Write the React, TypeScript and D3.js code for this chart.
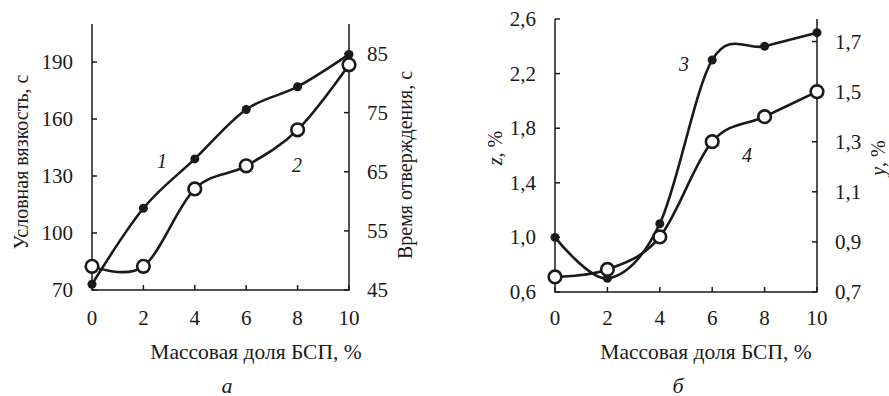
import { useEffect, useRef } from 'react';
import * as d3 from 'd3';

// x values: mass share of BSP, %
const massShare = [0, 2, 4, 6, 8, 10];
// panel а
const viscosity = [73, 113, 139, 165, 177, 194]; // curve 1, left axis
const cureTime = [49, 49, 62.1, 66, 72.1, 83.1]; // curve 2, right axis
// panel б
const zValues = [1.0, 0.7, 1.1, 2.3, 2.4, 2.5]; // curve 3, left axis
const yValues = [0.76, 0.79, 0.92, 1.3, 1.4, 1.5]; // curve 4, right axis

const xTicks = [0, 2, 4, 6, 8, 10];
const viscTicks = [70, 100, 130, 160, 190];
const timeTicks = [45, 55, 65, 75, 85];
const zTicks = [0.6, 1.0, 1.4, 1.8, 2.2, 2.6];
const yTicks = [0.7, 0.9, 1.1, 1.3, 1.5, 1.7];

const FONT = "'Liberation Serif', 'Times New Roman', Times, 'DejaVu Serif', serif";
const INK = '#1a1a1a';

const comma = (d: number) => d.toFixed(1).replace('.', ',');

type PanelOpts = {
  x0: number;
  x1: number;
  yTop: number;
  yBottom: number;
  leftDomain: [number, number];
  rightDomain: [number, number];
  leftTicks: number[];
  rightTicks: number[];
  fmtLeft: (d: number) => string;
  fmtRight: (d: number) => string;
  filled: number[];
  open: number[];
  filledLabel: { text: string; dx: number; dy: number };
  openLabel: { text: string; dx: number; dy: number };
  leftTitle: (t: d3.Selection<SVGTextElement, unknown, null, undefined>) => void;
  rightTitle: (t: d3.Selection<SVGTextElement, unknown, null, undefined>) => void;
  leftTitleX: number;
  leftTitleY: number;
  rightTitleX: number;
  rightTitleY: number;
  xTitleX: number;
  letter: string;
  letterX: number;
};

function drawPanel(svg: d3.Selection<SVGSVGElement, unknown, null, undefined>, o: PanelOpts) {
  const g = svg.append('g');
  const x = d3.scaleLinear().domain([0, 10]).range([o.x0, o.x1]);
  const yL = d3.scaleLinear().domain(o.leftDomain).range([o.yBottom, o.yTop]);
  const yR = d3.scaleLinear().domain(o.rightDomain).range([o.yBottom, o.yTop]);
  const tick = 5;

  // frame: left, bottom, right
  g.append('path')
    .attr('d', `M${o.x0},${o.yTop}V${o.yBottom}H${o.x1}V${o.yTop}`)
    .attr('fill', 'none')
    .attr('stroke', INK)
    .attr('stroke-width', 1.5);

  // ticks
  o.leftTicks.forEach((t) => {
    g.append('line')
      .attr('x1', o.x0).attr('x2', o.x0 + tick)
      .attr('y1', yL(t)).attr('y2', yL(t))
      .attr('stroke', INK).attr('stroke-width', 1.5);
    g.append('text')
      .attr('x', o.x0 - 19).attr('y', yL(t))
      .attr('text-anchor', 'end').attr('dominant-baseline', 'central')
      .text(o.fmtLeft(t));
  });
  o.rightTicks.forEach((t) => {
    g.append('line')
      .attr('x1', o.x1).attr('x2', o.x1 - tick)
      .attr('y1', yR(t)).attr('y2', yR(t))
      .attr('stroke', INK).attr('stroke-width', 1.5);
    g.append('text')
      .attr('x', o.x1 + 18).attr('y', yR(t))
      .attr('dominant-baseline', 'central')
      .text(o.fmtRight(t));
  });
  xTicks.forEach((t) => {
    g.append('line')
      .attr('x1', x(t)).attr('x2', x(t))
      .attr('y1', o.yBottom).attr('y2', o.yBottom - tick)
      .attr('stroke', INK).attr('stroke-width', 1.5);
    g.append('text')
      .attr('x', x(t)).attr('y', 318)
      .attr('text-anchor', 'middle').attr('dominant-baseline', 'central')
      .text(t);
  });

  g.selectAll('text').style('font-size', '21px');

  const curve = d3.curveCardinal.tension(0);
  const lineL = d3.line<number>().x((_, i) => x(massShare[i])).y((d) => yL(d)).curve(curve);
  const lineR = d3.line<number>().x((_, i) => x(massShare[i])).y((d) => yR(d)).curve(curve);

  g.append('path').datum(o.filled).attr('d', lineL)
    .attr('fill', 'none').attr('stroke', INK).attr('stroke-width', 2.6);
  g.append('path').datum(o.open).attr('d', lineR)
    .attr('fill', 'none').attr('stroke', INK).attr('stroke-width', 2.6);

  g.selectAll(null).data(o.filled).join('circle')
    .attr('cx', (_, i) => x(massShare[i])).attr('cy', (d) => yL(d))
    .attr('r', 4.5).attr('fill', INK);
  g.selectAll(null).data(o.open).join('circle')
    .attr('cx', (_, i) => x(massShare[i])).attr('cy', (d) => yR(d))
    .attr('r', 6.3).attr('fill', '#fff').attr('stroke', INK).attr('stroke-width', 2.6);

  // curve numbers
  [o.filledLabel, o.openLabel].forEach((l) => {
    g.append('text')
      .attr('x', l.dx).attr('y', l.dy)
      .attr('text-anchor', 'middle').attr('dominant-baseline', 'central')
      .style('font-style', 'italic').style('font-size', '20px')
      .text(l.text);
  });

  // axis titles
  const lt = g.append('text')
    .attr('transform', `translate(${o.leftTitleX},${o.leftTitleY}) rotate(-90)`)
    .attr('text-anchor', 'middle').attr('dominant-baseline', 'central')
    .style('font-size', '20px');
  o.leftTitle(lt);
  const rt = g.append('text')
    .attr('transform', `translate(${o.rightTitleX},${o.rightTitleY}) rotate(-90)`)
    .attr('text-anchor', 'middle').attr('dominant-baseline', 'central')
    .style('font-size', '20px');
  o.rightTitle(rt);

  g.append('text')
    .attr('x', o.xTitleX).attr('y', 352)
    .attr('text-anchor', 'middle').attr('dominant-baseline', 'central')
    .style('font-size', '21.5px')
    .text('Массовая доля БСП, %');

  g.append('text')
    .attr('x', o.letterX).attr('y', 385)
    .attr('text-anchor', 'middle').attr('dominant-baseline', 'central')
    .style('font-size', '22px').style('font-style', 'italic')
    .text(o.letter);

  g.selectAll('text').style('font-family', FONT).attr('fill', INK);
}

export default function App() {
  const svgRef = useRef<SVGSVGElement>(null);

  useEffect(() => {
    if (!svgRef.current) return;
    const svg = d3.select(svgRef.current);
    svg.selectAll('*').remove();

    drawPanel(svg, {
      x0: 92, x1: 349, yTop: 24, yBottom: 290,
      leftDomain: [70, 210], rightDomain: [45, 90],
      leftTicks: viscTicks, rightTicks: timeTicks,
      fmtLeft: (d) => String(d), fmtRight: (d) => String(d),
      filled: viscosity, open: cureTime,
      filledLabel: { text: '1', dx: 162, dy: 161 },
      openLabel: { text: '2', dx: 297, dy: 165 },
      leftTitle: (t) => t.text('Условная вязкость, с'),
      rightTitle: (t) => t.text('Время отверждения, с'),
      leftTitleX: 21, leftTitleY: 162,
      rightTitleX: 405, rightTitleY: 165,
      xTitleX: 256, letter: 'а', letterX: 227,
    });

    drawPanel(svg, {
      x0: 555, x1: 817, yTop: 19, yBottom: 292,
      leftDomain: [0.6, 2.6], rightDomain: [0.7, 1.79],
      leftTicks: zTicks, rightTicks: yTicks,
      fmtLeft: comma, fmtRight: comma,
      filled: zValues, open: yValues,
      filledLabel: { text: '3', dx: 684, dy: 64 },
      openLabel: { text: '4', dx: 747, dy: 155 },
      leftTitle: (t) => {
        t.append('tspan').style('font-style', 'italic').text('z');
        t.append('tspan').text(', %');
      },
      rightTitle: (t) => {
        t.append('tspan').style('font-style', 'italic').text('y');
        t.append('tspan').text(', %');
      },
      leftTitleX: 495, leftTitleY: 148,
      rightTitleX: 878, rightTitleY: 158,
      xTitleX: 706, letter: 'б', letterX: 678,
    });
  }, []);

  return (
    <svg
      ref={svgRef}
      width={889}
      height={396}
      style={{ position: 'absolute', left: 0, top: 0, background: '#fff' }}
    />
  );
}
